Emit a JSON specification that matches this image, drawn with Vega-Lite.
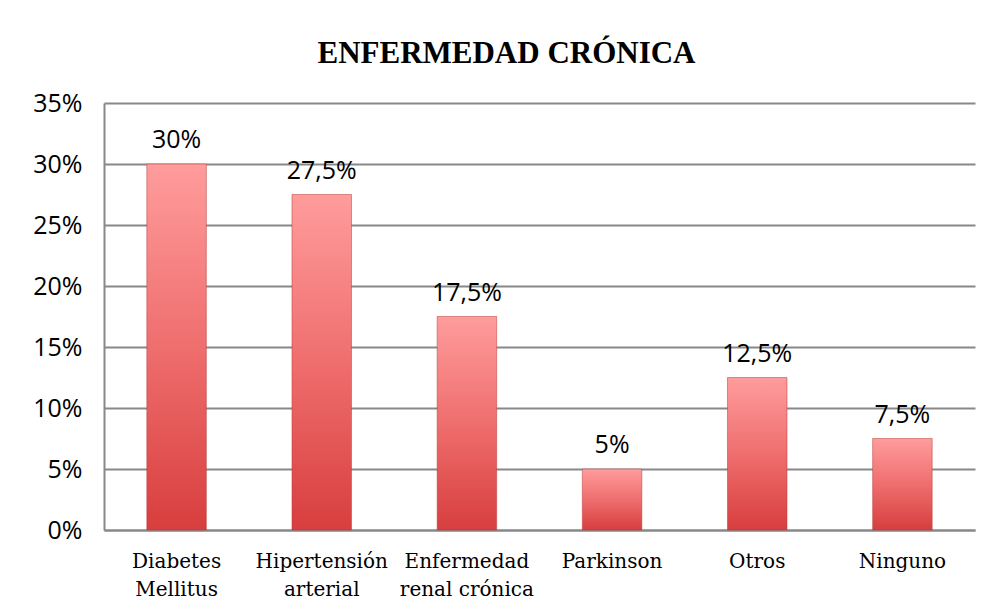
{
  "$schema": "https://vega.github.io/schema/vega-lite/v6.json",
  "autosize": "none",
  "width": 871,
  "height": 427,
  "padding": {"left": 104, "top": 103, "right": 14, "bottom": 82},
  "background": "white",
  "title": {
    "text": "ENFERMEDAD CRÓNICA",
    "font": "Liberation Serif",
    "fontSize": 31,
    "fontWeight": "bold",
    "color": "#000000",
    "anchor": "middle",
    "dx": -33,
    "offset": 21
  },
  "config": {
    "locale": {"number": {"decimal": ",", "thousands": ".", "grouping": [3], "currency": ["", " €"]}},
    "view": {"stroke": null}
  },
  "data": {
    "values": [
      {"enfermedad": "Diabetes Mellitus", "valor": 0.30},
      {"enfermedad": "Hipertensión arterial", "valor": 0.275},
      {"enfermedad": "Enfermedad renal crónica", "valor": 0.175},
      {"enfermedad": "Parkinson", "valor": 0.05},
      {"enfermedad": "Otros", "valor": 0.125},
      {"enfermedad": "Ninguno", "valor": 0.075}
    ]
  },
  "encoding": {
    "x": {
      "field": "enfermedad",
      "type": "nominal",
      "sort": null,
      "title": null,
      "scale": {"paddingInner": 0.59, "paddingOuter": 0.295},
      "axis": {
        "labelAngle": 0,
        "labelFont": "DejaVu Serif",
        "labelFontSize": 20,
        "labelColor": "#000000",
        "labelLineHeight": 28,
        "labelPadding": 21,
        "labelExpr": "datum.label == 'Enfermedad renal crónica' ? ['Enfermedad', 'renal crónica'] : split(datum.label, ' ')",
        "ticks": false,
        "domainColor": "#888888",
        "domainWidth": 2,
        "labelLimit": 200
      }
    },
    "y": {
      "field": "valor",
      "type": "quantitative",
      "title": null,
      "scale": {"domain": [0, 0.35]},
      "axis": {
        "values": [0, 0.05, 0.1, 0.15, 0.2, 0.25, 0.3, 0.35],
        "format": ".0%",
        "labelFont": "Open Sans",
        "labelFontSize": 25,
        "labelColor": "#000000",
        "labelPadding": 22,
        "ticks": false,
        "domainColor": "#888888",
        "domainWidth": 2,
        "gridColor": "#888888",
        "gridWidth": 2
      }
    }
  },
  "layer": [
    {
      "mark": {
        "type": "bar",
        "stroke": "#b83a3a",
        "strokeWidth": 1,
        "strokeOpacity": 0.5,
        "color": {
          "gradient": "linear",
          "x1": 0, "y1": 0, "x2": 0, "y2": 1,
          "stops": [
            {"offset": 0, "color": "#ff9c9c"},
            {"offset": 0.5, "color": "#ef6e6e"},
            {"offset": 1, "color": "#d83e3e"}
          ]
        }
      }
    },
    {
      "mark": {
        "type": "text",
        "font": "Open Sans",
        "fontSize": 25,
        "color": "#000000",
        "baseline": "alphabetic",
        "dy": -16
      },
      "encoding": {
        "text": {"field": "valor", "type": "quantitative", "format": ".1~%"}
      }
    }
  ]
}
